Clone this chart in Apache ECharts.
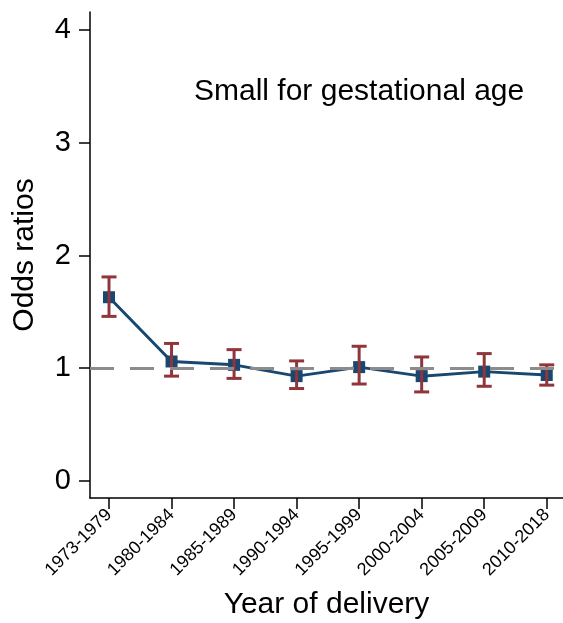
<!DOCTYPE html>
<html>
<head>
<meta charset="utf-8">
<script src="https://cdn.jsdelivr.net/npm/echarts@6/dist/echarts.min.js"></script>
<style>
  html, body { margin: 0; padding: 0; background: #fff; }
  #main { width: 563px; height: 623px; }
</style>
</head>
<body>
<div id="main"></div>
<script>
// periods of delivery
var periods = ['1973-1979', '1980-1984', '1985-1989', '1990-1994', '1995-1999', '2000-2004', '2005-2009', '2010-2018']
// odds ratios and 95% CI
var oddsRatio = [1.63, 1.06, 1.03, 0.93, 1.01, 0.93, 0.97, 0.94]
var ciLow = [1.46, 0.93, 0.91, 0.82, 0.86, 0.79, 0.84, 0.85]
var ciHigh = [1.81, 1.22, 1.165, 1.065, 1.195, 1.10, 1.13, 1.03]
var yTicks = [0, 1, 2, 3, 4]

var font = 'Liberation Sans, Arial, sans-serif'
var xPos = periods.map(function (p, i) { return i + 1 })

var lineData = oddsRatio.map(function (v, i) { return [xPos[i], v] })
var ciData = oddsRatio.map(function (v, i) { return [xPos[i], ciLow[i], ciHigh[i]] })

var chart = echarts.init(document.getElementById('main'))

var option = {
    animation: false,
    backgroundColor: '#fff',
    title: {
        text: 'Small for gestational age',
        left: 189,
        top: 72,
        textStyle: { fontFamily: font, fontSize: 30, fontWeight: 'normal', color: '#000' }
    },
    grid: { left: 90, right: 0, top: 12, bottom: 125, containLabel: false, outerBoundsMode: 'none' },
    xAxis: {
        type: 'value',
        min: 0.696,
        max: 8.26,
        name: 'Year of delivery',
        nameLocation: 'middle',
        nameGap: 92,
        nameTextStyle: { fontFamily: font, fontSize: 30, color: '#000' },
        splitLine: { show: false },
        axisLine: { onZero: false, lineStyle: { color: '#000', width: 1.5 } },
        axisTick: { customValues: xPos, length: 11, lineStyle: { color: '#000', width: 1.5 } },
        axisLabel: {
            customValues: xPos,
            rotate: 45,
            margin: 14,
            fontFamily: font,
            fontSize: 18,
            color: '#000',
            formatter: function (v) { return periods[Math.round(v) - 1] || '' }
        }
    },
    yAxis: {
        type: 'value',
        min: -0.151,
        max: 4.16,
        name: 'Odds ratios',
        nameLocation: 'middle',
        nameGap: 50,
        nameTextStyle: { fontFamily: font, fontSize: 30, color: '#000' },
        splitLine: { show: false },
        axisLine: { show: true, onZero: false, lineStyle: { color: '#000', width: 1.5 } },
        axisTick: { show: true, customValues: yTicks, length: 11, lineStyle: { color: '#000', width: 1.5 } },
        axisLabel: { customValues: yTicks, margin: 19, fontFamily: font, fontSize: 29, color: '#000' }
    },
    series: [
        {
            type: 'line',
            data: [],
            silent: true,
            markLine: {
                symbol: 'none',
                silent: true,
                label: { show: false },
                lineStyle: { color: '#8c8c8c', width: 3, type: [24, 16] },
                data: [{ yAxis: 1 }]
            }
        },
        {
            type: 'line',
            data: lineData,
            symbol: 'rect',
            symbolSize: 12,
            itemStyle: { color: '#1a476f' },
            lineStyle: { color: '#1a476f', width: 3 },
            z: 3
        },
        {
            type: 'custom',
            data: ciData,
            z: 4,
            renderItem: function (params, api) {
                var x = api.value(0)
                var lo = api.coord([x, api.value(1)])
                var hi = api.coord([x, api.value(2)])
                var half = 7.5
                var style = { stroke: '#90353b', lineWidth: 3 }
                return {
                    type: 'group',
                    children: [
                        { type: 'line', shape: { x1: lo[0], y1: lo[1], x2: hi[0], y2: hi[1] }, style: style },
                        { type: 'line', shape: { x1: lo[0] - half, y1: lo[1], x2: lo[0] + half, y2: lo[1] }, style: style },
                        { type: 'line', shape: { x1: hi[0] - half, y1: hi[1], x2: hi[0] + half, y2: hi[1] }, style: style }
                    ]
                }
            }
        }
    ]
}

chart.setOption(option)
</script>
</body>
</html>
